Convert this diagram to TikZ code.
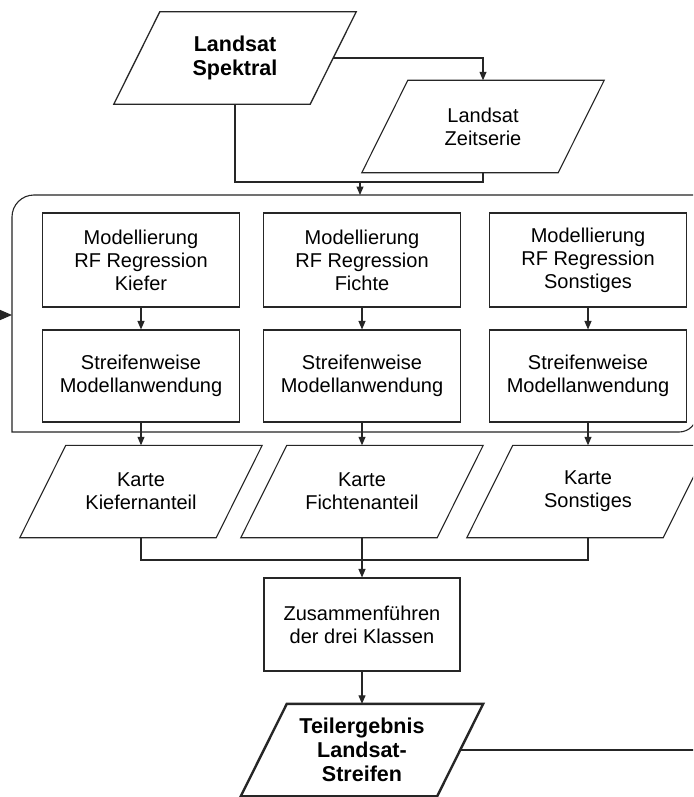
\documentclass[tikz,border=0pt]{standalone}
\usepackage{fontspec}
\setmainfont{Liberation Sans}
\usetikzlibrary{arrows.meta,calc}
\tikzset{
  ln/.style={line width=1.1pt, draw=black!85},
  arr/.style={ln, -{Triangle[length=8.5pt,width=7pt]}},
  txt/.style={font=\fontsize{20}{23}\selectfont, align=center, inner sep=0pt, text=black},
  boldtxt/.style={font=\fontsize{21.5}{24}\selectfont\bfseries},
  boxnode/.style={txt, ln, draw, minimum width=197pt, minimum height=93pt},
  paranode/.style={txt, minimum width=196pt, minimum height=92pt},
}
\begin{document}
\begin{tikzpicture}[x=1pt,y=-1pt]
\useasboundingbox (0,0) rectangle (693,797);
\clip (0,0) rectangle (693,797);
\fill[white] (0,0) rectangle (693,797);

% nodes
\node[paranode,boldtxt] (spek) at (235,58) {Landsat\\Spektral};
\node[paranode] (zeit) at (483,126.5) {Landsat\\Zeitserie};

\node[boxnode, minimum height=94pt] (m1) at (141,260) {Modellierung\\RF Regression\\Kiefer};
\node[boxnode, minimum height=94pt] (m2) at (362,260) {Modellierung\\RF Regression\\Fichte};
\node[boxnode, minimum height=94pt] (m3) at (588,260) {Modellierung\\RF Regression\\Sonstiges};

\node[boxnode, minimum height=92pt] (s1) at (141,376) {Streifenweise\\Modellanwendung};
\node[boxnode, minimum height=92pt] (s2) at (362,376) {Streifenweise\\Modellanwendung};
\node[boxnode, minimum height=92pt] (s3) at (588,376) {Streifenweise\\Modellanwendung};

\node[paranode] (k1) at (141,491.5) {Karte\\Kiefernanteil};
\node[paranode] (k2) at (362,491.5) {Karte\\Fichtenanteil};
\node[paranode] (k3) at (588,491.5) {Karte\\Sonstiges};

\node[boxnode, minimum width=196pt] (zus) at (362,624.5) {Zusammenführen\\der drei Klassen};
\node[paranode,boldtxt] (teil) at (362,750) {Teilergebnis\\Landsat-\\Streifen};

% parallelogram outlines
\foreach \n in {zeit,k1,k2,k3}
  \draw[ln] ($(\n.north west)+(23,0)$) -- ($(\n.north east)+(23,0)$) -- ($(\n.south east)+(-23,0)$) -- ($(\n.south west)+(-23,0)$) -- cycle;
\draw[ln, line width=1.3pt] ($(spek.north west)+(23,0)$) -- ($(spek.north east)+(23,0)$) -- ($(spek.south east)+(-23,0)$) -- ($(spek.south west)+(-23,0)$) -- cycle;
\draw[ln, line width=2.4pt, line join=miter] ($(teil.north west)+(23,0)$) -- ($(teil.north east)+(23,0)$) -- ($(teil.south east)+(-23,0)$) -- ($(teil.south west)+(-23,0)$) -- cycle;

% frame
\draw[ln] (697,195) -- (34,195) arc[start angle=270, end angle=180, radius=22] -- (12,432) -- (679,432) arc[start angle=90, end angle=0, radius=18] -- cycle;

% coordinates
\coordinate (j1) at (360,182);
\coordinate (ftop) at (360,195);
\coordinate (j2) at (362,560);
\coordinate (lin) at (-10,315);
\coordinate (fleft) at (12,315);
\coordinate (tout) at (700,750);

% connectors
\draw[arr] (spek.east) -| (zeit.north);
\draw[ln] (spek.south) |- (j1) -| (zeit.south);
\draw[arr] (j1) -- (ftop);
\foreach \c in {1,2,3} {
  \draw[arr] (m\c.south) -- (s\c.north);
  \draw[arr] (s\c.south) -- (k\c.north);
}
\draw[ln] (k1.south) |- (j2) -| (k3.south);
\draw[arr] (k2.south) -- (zus.north);
\draw[arr] (zus.south) -- (teil.north);
\draw[ln, -{Triangle[length=12pt,width=10pt]}] (lin) -- (fleft);
\draw[ln, line width=2.4pt] (teil.east) -- (tout);
\end{tikzpicture}
\end{document}
